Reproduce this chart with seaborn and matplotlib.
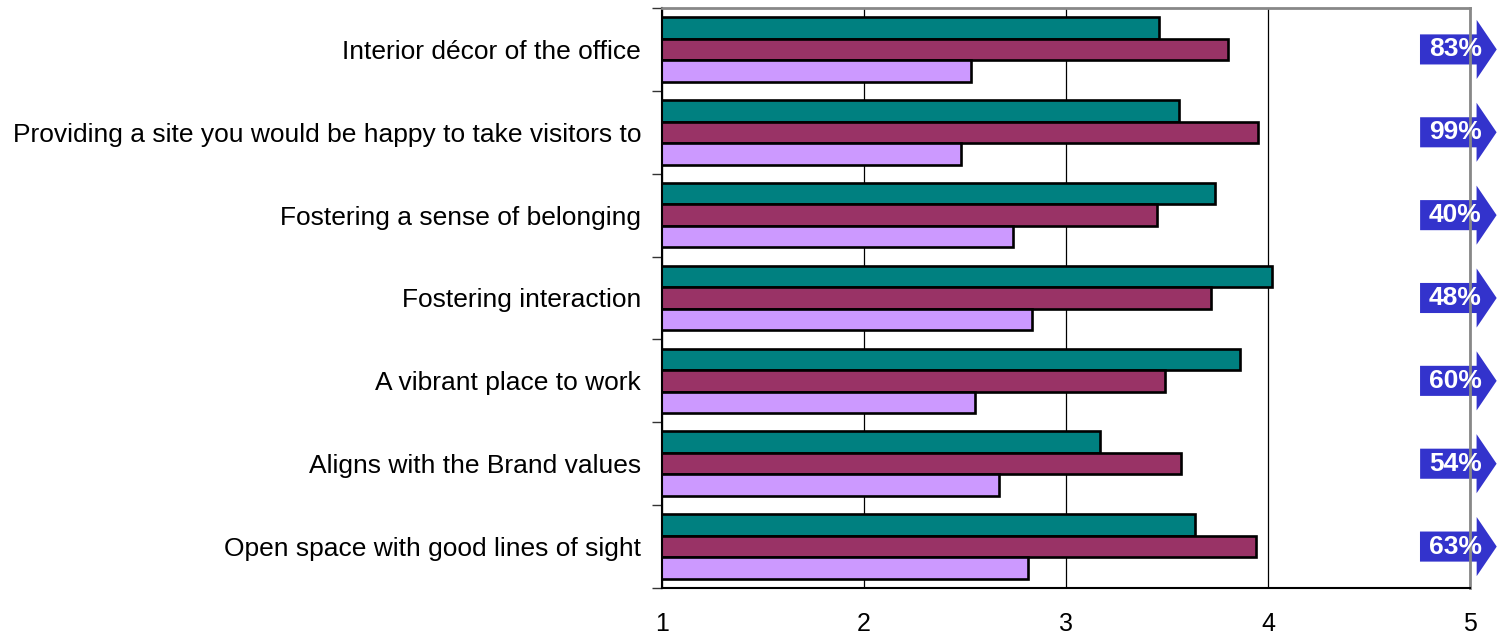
import matplotlib
matplotlib.use("Agg")
import matplotlib.pyplot as plt
from matplotlib.path import Path
import seaborn as sns
import pandas as pd

categories = [
    "Interior décor of the office",
    "Providing a site you would be happy to take visitors to",
    "Fostering a sense of belonging",
    "Fostering interaction",
    "A vibrant place to work",
    "Aligns with the Brand values",
    "Open space with good lines of sight",
]
series_names = ["Series 1", "Series 2", "Series 3"]
series1 = [3.46, 3.56, 3.74, 4.02, 3.86, 3.17, 3.64]
series2 = [3.80, 3.95, 3.45, 3.72, 3.49, 3.57, 3.94]
series3 = [2.53, 2.48, 2.74, 2.83, 2.55, 2.67, 2.81]
pct_labels = ["83%", "99%", "40%", "48%", "60%", "54%", "63%"]
x_ticks = [1, 2, 3, 4, 5]

colors = ["#008080", "#993366", "#CC99FF"]

rows = []
for name, vals in zip(series_names, [series1, series2, series3]):
    for c, v in zip(categories, vals):
        rows.append({"category": c, "series": name, "value": v})
df = pd.DataFrame(rows)

sns.set_style("white")
plt.rcParams["font.family"] = ["Liberation Sans", "DejaVu Sans"]
for k in ["text.color", "axes.labelcolor", "xtick.color", "ytick.color"]:
    plt.rcParams[k] = "black"


class ArrowBox:
    """Right-pointing block arrow drawn around a text label."""
    def __call__(self, x0, y0, width, height, mutation_size):
        m = mutation_size
        yc = y0 + height / 2
        left = x0 - 0.34 * m
        base = x0 + width - 0.2 * m
        tip = base + 0.76 * m
        bh = 0.57 * m
        hh = 1.12 * m
        verts = [(left, yc - bh), (base, yc - bh), (base, yc - hh), (tip, yc),
                 (base, yc + hh), (base, yc + bh), (left, yc + bh), (left, yc - bh)]
        codes = [Path.MOVETO] + [Path.LINETO] * 6 + [Path.CLOSEPOLY]
        return Path(verts, codes)


fig = plt.figure(figsize=(15.02, 6.36), dpi=100)
ax = fig.add_axes([662 / 1502, 1 - 588 / 636, (1470 - 662) / 1502, (588 - 8) / 636])

sns.barplot(data=df, y="category", x="value", hue="series", order=categories,
            hue_order=series_names, palette=colors, orient="h", width=0.78,
            edgecolor="black", linewidth=1.9, saturation=1, legend=False, ax=ax)

ax.set_xlim(1, 5)
ax.set_ylim(len(categories) - 0.5, -0.5)
ax.set_xticks(x_ticks)
ax.set_xticklabels([str(t) for t in x_ticks], fontsize=18)
ax.set_xlabel("")
ax.set_ylabel("")
ax.xaxis.grid(True, color="black", linewidth=0.9)
ax.set_axisbelow(True)

ax.tick_params(axis="x", direction="out", length=8, width=1, pad=9.5, colors="black")
ax.tick_params(axis="y", which="major", length=0, pad=15, labelsize=19, labelcolor="black")
ax.set_yticks([i - 0.5 for i in range(len(categories) + 1)], minor=True)
ax.tick_params(axis="y", which="minor", direction="out", length=7, width=1, color="#333333", left=True)

for side in ["left", "bottom"]:
    ax.spines[side].set_color("black")
    ax.spines[side].set_linewidth(1.5)
for side in ["top", "right"]:
    ax.spines[side].set_color("#888888")
    ax.spines[side].set_linewidth(2)
    ax.spines[side].set_visible(True)

for i, lab in enumerate(pct_labels):
    # arrow shape below the right spine
    ax.annotate(lab, xy=(0.982, i), xycoords=("axes fraction", "data"),
                ha="center", va="center", fontsize=19, fontweight="bold", color=(1, 1, 1, 0),
                bbox=dict(boxstyle=ArrowBox(), fc="#3333CC", ec="none"),
                annotation_clip=False, zorder=2)
    # white label on top
    ax.annotate(lab, xy=(0.982, i), xycoords=("axes fraction", "data"),
                ha="center", va="center", fontsize=19, fontweight="bold", color="white",
                annotation_clip=False, zorder=4)

fig.savefig("out.png", dpi=100)
